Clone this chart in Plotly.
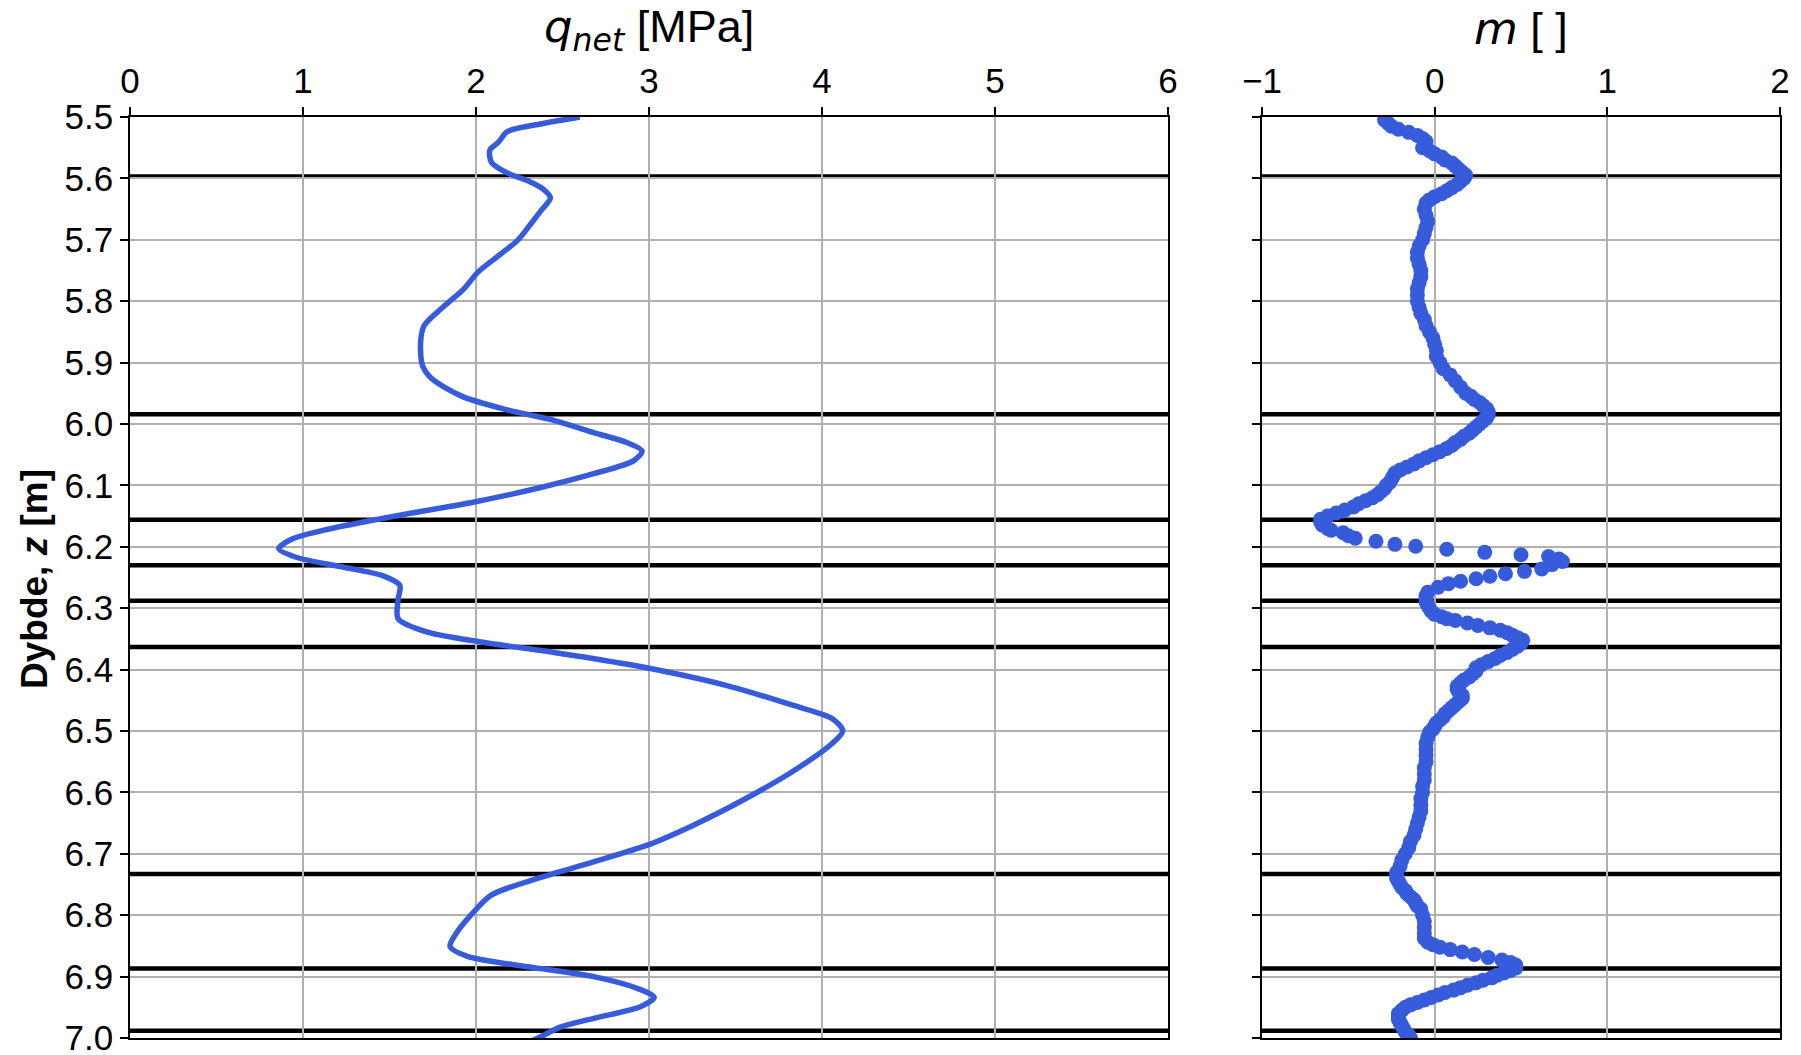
import plotly.graph_objects as go

# Net cone resistance profile q_net [MPa] versus depth z [m]
qnet_depth = [5.500, 5.511, 5.524, 5.541, 5.554, 5.574, 5.591, 5.604, 5.618, 5.632,
              5.651, 5.673, 5.701, 5.726, 5.753, 5.780, 5.812, 5.840, 5.866, 5.904,
              5.925, 5.955, 5.977, 5.994, 6.014, 6.030, 6.044, 6.060, 6.081, 6.103,
              6.127, 6.150, 6.171, 6.187, 6.203, 6.217, 6.233, 6.247, 6.263, 6.285,
              6.317, 6.339, 6.355, 6.372, 6.393, 6.426, 6.458, 6.480, 6.500, 6.520,
              6.566, 6.610, 6.653, 6.686, 6.713, 6.738, 6.767, 6.800, 6.832, 6.851,
              6.867, 6.884, 6.900, 6.919, 6.934, 6.949, 6.968, 6.982, 7.000, 7.017]
qnet_value = [2.60, 2.38, 2.18, 2.13, 2.08, 2.09, 2.18, 2.30, 2.39, 2.43,
              2.38, 2.32, 2.24, 2.13, 2.01, 1.93, 1.80, 1.70, 1.68, 1.69,
              1.74, 1.92, 2.18, 2.45, 2.68, 2.87, 2.96, 2.91, 2.68, 2.38,
              1.99, 1.53, 1.15, 0.94, 0.86, 0.96, 1.23, 1.46, 1.56, 1.55,
              1.55, 1.72, 2.03, 2.45, 2.91, 3.45, 3.83, 4.06, 4.12, 4.06,
              3.83, 3.56, 3.26, 2.99, 2.68, 2.38, 2.09, 1.97, 1.88, 1.85,
              1.95, 2.30, 2.68, 2.93, 3.03, 2.95, 2.68, 2.49, 2.36, 2.22]

# Exponent m [ ] versus depth z [m]
m_depth = [5.505, 5.510, 5.515, 5.520, 5.525, 5.530, 5.535, 5.540, 5.545, 5.550,
           5.555, 5.560, 5.565, 5.570, 5.575, 5.580, 5.585, 5.590, 5.595, 5.600,
           5.605, 5.610, 5.615, 5.620, 5.625, 5.630, 5.635, 5.640, 5.650, 5.660,
           5.670, 5.680, 5.690, 5.700, 5.710, 5.720, 5.730, 5.740, 5.750, 5.760,
           5.770, 5.780, 5.790, 5.800, 5.810, 5.820, 5.830, 5.840, 5.850, 5.860,
           5.870, 5.880, 5.890, 5.900, 5.910, 5.920, 5.930, 5.940, 5.950, 5.955,
           5.960, 5.965, 5.970, 5.975, 5.980, 5.985, 5.990, 5.995, 6.000, 6.005,
           6.010, 6.015, 6.020, 6.025, 6.030, 6.035, 6.040, 6.045, 6.050, 6.055,
           6.060, 6.065, 6.070, 6.075, 6.080, 6.085, 6.090, 6.095, 6.100, 6.105,
           6.110, 6.115, 6.120, 6.125, 6.130, 6.135, 6.140, 6.145, 6.150, 6.155,
           6.160, 6.165, 6.170, 6.173, 6.177, 6.182, 6.186, 6.191, 6.196, 6.199,
           6.204, 6.209, 6.213, 6.216, 6.220, 6.224, 6.229, 6.236, 6.240, 6.244,
           6.248, 6.252, 6.256, 6.260, 6.266, 6.274, 6.280, 6.285, 6.290, 6.295,
           6.300, 6.305, 6.310, 6.314, 6.317, 6.320, 6.324, 6.328, 6.332, 6.336,
           6.340, 6.344, 6.348, 6.352, 6.357, 6.362, 6.367, 6.372, 6.377, 6.382,
           6.387, 6.392, 6.397, 6.402, 6.407, 6.412, 6.417, 6.422, 6.427, 6.432,
           6.437, 6.442, 6.447, 6.452, 6.457, 6.462, 6.467, 6.472, 6.477, 6.482,
           6.487, 6.492, 6.497, 6.502, 6.510, 6.520, 6.530, 6.540, 6.550, 6.560,
           6.570, 6.580, 6.590, 6.600, 6.610, 6.620, 6.630, 6.640, 6.650, 6.660,
           6.670, 6.680, 6.690, 6.700, 6.710, 6.720, 6.730, 6.735, 6.740, 6.745,
           6.750, 6.755, 6.760, 6.765, 6.770, 6.775, 6.780, 6.785, 6.790, 6.800,
           6.810, 6.820, 6.830, 6.838, 6.844, 6.848, 6.852, 6.856, 6.860, 6.864,
           6.869, 6.873, 6.877, 6.881, 6.886, 6.890, 6.894, 6.898, 6.902, 6.906,
           6.910, 6.914, 6.918, 6.922, 6.926, 6.930, 6.934, 6.938, 6.942, 6.946,
           6.950, 6.955, 6.960, 6.965, 6.970, 6.975, 6.980, 6.985, 6.990, 6.995,
           7.000]
m_value = [-0.29, -0.27, -0.25, -0.21, -0.15, -0.10, -0.07, -0.05, -0.06, -0.07,
           -0.03, 0.00, 0.04, 0.06, 0.10, 0.12, 0.14, 0.16, 0.18, 0.17,
           0.15, 0.13, 0.10, 0.07, 0.04, 0.00, -0.03, -0.05, -0.06, -0.05,
           -0.04, -0.05, -0.06, -0.07, -0.09, -0.10, -0.10, -0.09, -0.08, -0.08,
           -0.09, -0.10, -0.10, -0.10, -0.09, -0.08, -0.06, -0.05, -0.03, -0.01,
           0.00, 0.01, 0.01, 0.03, 0.05, 0.09, 0.12, 0.15, 0.18, 0.21,
           0.23, 0.26, 0.28, 0.30, 0.31, 0.31, 0.30, 0.28, 0.26, 0.24,
           0.22, 0.20, 0.17, 0.15, 0.12, 0.10, 0.07, 0.03, -0.01, -0.05,
           -0.09, -0.12, -0.16, -0.20, -0.23, -0.24, -0.25, -0.26, -0.28, -0.29,
           -0.31, -0.33, -0.36, -0.40, -0.44, -0.47, -0.52, -0.57, -0.62, -0.66,
           -0.66, -0.65, -0.62, -0.60, -0.53, -0.50, -0.46, -0.34, -0.23, -0.11,
           0.07, 0.29, 0.50, 0.66, 0.72, 0.74, 0.68, 0.62, 0.52, 0.41,
           0.32, 0.24, 0.15, 0.08, 0.02, -0.04, -0.05, -0.05, -0.05, -0.04,
           -0.03, -0.02, 0.00, 0.04, 0.07, 0.12, 0.19, 0.25, 0.32, 0.38,
           0.42, 0.45, 0.48, 0.51, 0.50, 0.48, 0.45, 0.42, 0.38, 0.35,
           0.31, 0.27, 0.24, 0.24, 0.22, 0.20, 0.17, 0.15, 0.13, 0.13,
           0.14, 0.16, 0.16, 0.14, 0.12, 0.10, 0.08, 0.06, 0.05, 0.03,
           0.01, 0.00, -0.01, -0.03, -0.04, -0.05, -0.05, -0.05, -0.05, -0.06,
           -0.06, -0.06, -0.07, -0.07, -0.08, -0.08, -0.08, -0.09, -0.10, -0.11,
           -0.12, -0.14, -0.15, -0.17, -0.19, -0.20, -0.22, -0.22, -0.22, -0.21,
           -0.20, -0.19, -0.17, -0.16, -0.14, -0.12, -0.11, -0.10, -0.08, -0.07,
           -0.06, -0.06, -0.06, -0.06, -0.04, -0.01, 0.03, 0.09, 0.16, 0.23,
           0.31, 0.39, 0.44, 0.47, 0.47, 0.44, 0.40, 0.36, 0.33, 0.28,
           0.24, 0.19, 0.15, 0.11, 0.06, 0.02, -0.02, -0.06, -0.10, -0.14,
           -0.17, -0.19, -0.21, -0.21, -0.21, -0.20, -0.19, -0.18, -0.17, -0.15,
           -0.14]

# Layer boundaries [m]
layer_bounds = [5.597, 5.984, 6.156, 6.230, 6.288, 6.363, 6.733, 6.887, 6.988]

# Tick labels
depth_ticks = [5.5, 5.6, 5.7, 5.8, 5.9, 6.0, 6.1, 6.2, 6.3, 6.4, 6.5, 6.6, 6.7, 6.8, 6.9, 7.0]
depth_ticktext = ["5.5", "5.6", "5.7", "5.8", "5.9", "6.0", "6.1", "6.2", "6.3",
                  "6.4", "6.5", "6.6", "6.7", "6.8", "6.9", "7.0"]
qnet_ticks = [0, 1, 2, 3, 4, 5, 6]
m_ticks = [-1, 0, 1, 2]
m_ticktext = ["\u22121", "0", "1", "2"]

BLUE = "#365CDC"
GRID = "#b0b0b0"
FONT = "Liberation Sans, Arial, sans-serif"
W, H = 1801, 1055

fig = go.Figure()
fig.add_trace(go.Scatter(x=qnet_value, y=qnet_depth, mode="lines",
                         line=dict(color=BLUE, width=5.5, shape="spline", smoothing=0.8),
                         xaxis="x", yaxis="y", showlegend=False))
fig.add_trace(go.Scatter(x=m_value, y=m_depth, mode="markers",
                         marker=dict(color=BLUE, size=15, line=dict(width=0)),
                         xaxis="x2", yaxis="y2", showlegend=False))

# Layer boundaries drawn across both panels
shapes = []
for d in layer_bounds:
    for xr, yr in (("x domain", "y"), ("x2 domain", "y2")):
        shapes.append(dict(type="line", xref=xr, yref=yr, x0=0, x1=1, y0=d, y1=d,
                           line=dict(color="black", width=4.5), layer="below"))

ydom = [1 - 1038 / H, 1 - 117 / H]
tick_font = dict(family=FONT, size=35, color="black")
common_x = dict(side="top", showgrid=True, gridcolor=GRID, gridwidth=1.5,
                showline=True, linecolor="black", linewidth=1.5, mirror=True,
                ticks="outside", ticklen=8, tickwidth=1.5, tickcolor="black",
                zeroline=False, tickfont=tick_font, automargin=False)
common_y = dict(range=[7.0, 5.5], tickvals=depth_ticks, ticktext=depth_ticktext,
                showgrid=True, gridcolor=GRID, gridwidth=1.5, showline=True,
                linecolor="black", linewidth=1.5, mirror=True, ticks="outside",
                ticklen=8, tickwidth=1.5, tickcolor="black", zeroline=False,
                domain=ydom, tickfont=tick_font, automargin=False,
                ticklabeloverflow="allow")

fig.update_layout(
    width=W, height=H,
    margin=dict(l=0, r=0, t=0, b=0, autoexpand=False),
    plot_bgcolor="white", paper_bgcolor="white",
    font=dict(family=FONT, color="black"),
    xaxis=dict(common_x, range=[0, 6], tickvals=qnet_ticks, anchor="y",
               domain=[130 / W, 1168 / W]),
    xaxis2=dict(common_x, range=[-1, 2], tickvals=m_ticks, ticktext=m_ticktext,
                anchor="y2", domain=[1262 / W, 1780 / W]),
    yaxis=dict(common_y, anchor="x"),
    yaxis2=dict(common_y, anchor="x2", showticklabels=False),
    shapes=shapes,
    annotations=[
        dict(text='<span style="font-family:DejaVu Sans"><i>q<sub>net</sub></i></span> [MPa]',
             xref="paper", yref="paper", x=649 / W, y=1 - 29 / H,
             xanchor="center", yanchor="middle", showarrow=False,
             font=dict(family=FONT, size=45, color="black")),
        dict(text='<span style="font-family:DejaVu Sans"><i>m</i></span> [ ]',
             xref="paper", yref="paper", x=1521 / W, y=1 - 29 / H,
             xanchor="center", yanchor="middle", showarrow=False,
             font=dict(family=FONT, size=45, color="black")),
        dict(text="<b>Dybde, <i>z</i> [m]</b>",
             xref="paper", yref="paper", x=34 / W, y=1 - 579 / H,
             xanchor="center", yanchor="middle", textangle=-90, showarrow=False,
             font=dict(family=FONT, size=37, color="black")),
    ],
)

fig.write_html("out.html")
